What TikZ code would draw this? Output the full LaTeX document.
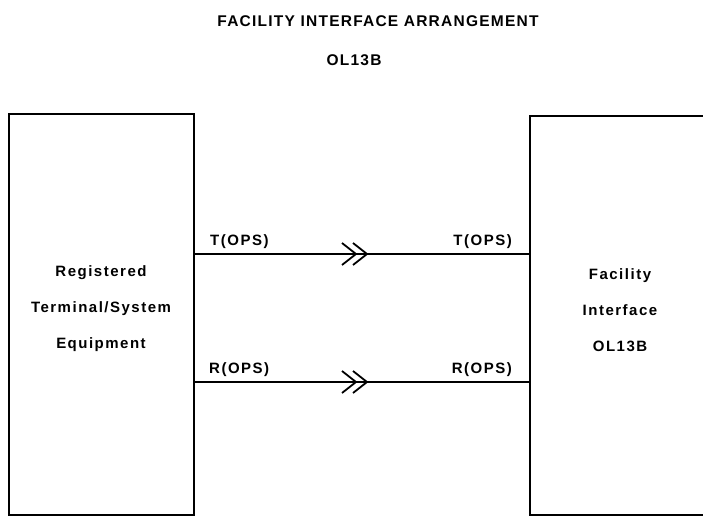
\documentclass[tikz,border=0pt]{standalone}
\usepackage{fontspec}
\newfontfamily\diafont{Liberation Sans}[LetterSpace=10]
\newfontfamily\ttlfont{Liberation Sans}[LetterSpace=8]
\begin{document}
\begin{tikzpicture}[x=1pt,y=-1pt,
  box/.style={draw=black, line width=1.9pt, rectangle, inner sep=0pt, anchor=north west},
  wire/.style={draw=black, line width=1.7pt},
  chev/.style={draw=black, line width=1.8pt, line join=miter},
  lbl/.style={font={\diafont\bfseries\fontsize{15}{17}\selectfont}, inner sep=0pt},
  boxtext/.style={font={\diafont\bfseries\fontsize{15}{36}\selectfont}, align=center, inner sep=0pt},
  ttl/.style={font={\ttlfont\bfseries\fontsize{15.5}{17}\selectfont}, inner sep=0pt}]
\useasboundingbox (0,0) rectangle (703,517);
\clip (0,0) rectangle (703,517);
\fill[white] (0,0) rectangle (703,517);

% title
\node[ttl, anchor=base] (title) at (378,26.5) {FACILITY INTERFACE ARRANGEMENT};
\node[ttl, anchor=base] (sub) at (354,65.5) {OL13B};

% boxes
\node[box, minimum width=185pt, minimum height=401pt] (lbox) at (8,113) {};
\node[box, minimum width=200pt, minimum height=399pt] (rbox) at (529,115) {};

% box texts
\node[boxtext] (ltext) at (101,309) {Registered\\Terminal/System\\Equipment};
\node[boxtext] (rtext) at (620,310) {Facility\\Interface\\OL13B};

% rows
\coordinate (trow) at (0,254);
\coordinate (rrow) at (0,382);
\draw[wire] (lbox.east |- trow) -- (rbox.west |- trow);
\draw[wire] (lbox.east |- rrow) -- (rbox.west |- rrow);

% chevrons
\draw[chev] (342,243) -- (356,254) -- (342,265);
\draw[chev] (353,243) -- (367,254) -- (353,265);
\draw[chev] (342,371) -- (356,382) -- (342,393);
\draw[chev] (353,371) -- (367,382) -- (353,393);

% labels
\node[lbl, anchor=base west] (tl) at (210,245.5) {T(OPS)};
\node[lbl, anchor=base east] (tr) at (512,245.5) {T(OPS)};
\node[lbl, anchor=base west] (rl) at (209,373) {R(OPS)};
\node[lbl, anchor=base east] (rr) at (512,373) {R(OPS)};
\end{tikzpicture}
\end{document}
